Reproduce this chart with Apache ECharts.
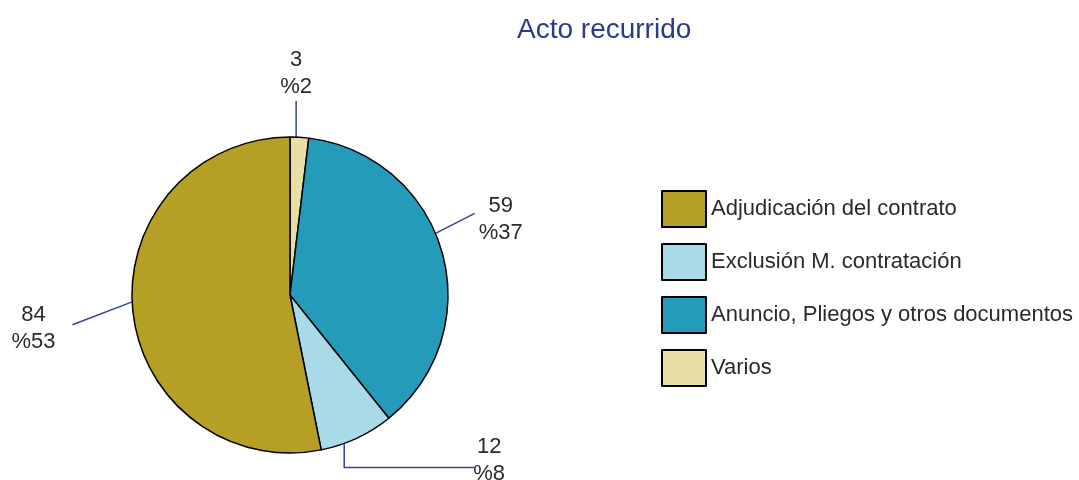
<!DOCTYPE html>
<html><head><meta charset="utf-8">
<script src="https://cdn.jsdelivr.net/npm/echarts@6/dist/echarts.min.js"></script>
<style>html,body{margin:0;padding:0;background:#fff}#c{width:1079px;height:480px}</style>
</head><body><div id="c"></div>
<script>
const titleText = 'Acto recurrido';
const categories = ['Varios', 'Anuncio, Pliegos y otros documentos', 'Exclusión M. contratación', 'Adjudicación del contrato'];
const values = [3, 59, 12, 84];
const percents = [2, 37, 8, 53];
const legendOrder = ['Adjudicación del contrato', 'Exclusión M. contratación', 'Anuncio, Pliegos y otros documentos', 'Varios'];
const colors = ['#E8DFA7', '#249BB8', '#A8DBE7', '#B5A025'];

// leader-line styling (per slice): anchor angle shift, direction, lengths, label offset
const anchorShift = [1.2, 7, -5, -3.2];
const lineDir = [90, 27, -90, 201];
const lineLen = [36, 44, 24, 64];
const lineLen2 = [0, 0, 130, 0];
const labelOff = [[0, -1], [26, 6], [15, -7], [-39, 4]];

const cx = 290, cy = 295, R = 158;
const font = '"Liberation Sans", Arial, sans-serif';
const total = values.reduce((a, b) => a + b, 0);
const cum = [];
values.reduce((a, v, i) => { cum[i] = a + v / 2; return a + v; }, 0);

const rad = d => d * Math.PI / 180;
const chart = echarts.init(document.getElementById('c'));
chart.setOption({
  animation: false,
  title: { text: titleText, left: 512, top: 11,
    textStyle: { color: '#2B3A8F', fontSize: 28, fontWeight: 'normal', fontFamily: font } },
  legend: {
    orient: 'vertical', left: 656, top: 185, itemWidth: 44, itemHeight: 36, itemGap: 15,
    icon: 'rect', data: legendOrder,
    textStyle: { fontSize: 22, color: '#2a2a2a', fontFamily: font }
  },
  series: [{
    type: 'pie', center: [cx, cy], radius: R, startAngle: 90, clockwise: true,
    avoidLabelOverlap: false,
    itemStyle: { borderColor: '#000', borderWidth: 1.5 },
    label: { show: true, position: 'outside', fontSize: 22, color: '#2a2a2a', fontFamily: font,
      lineHeight: 27, align: 'center',
      formatter: p => values[p.dataIndex] + '\n%' + percents[p.dataIndex] },
    labelLine: { show: true, length: 20, length2: 0, lineStyle: { color: '#36459A', width: 1.5 } },
    labelLayout: function (p) {
      const i = p.dataIndex;
      const mid = 90 - cum[i] / total * 360 + anchorShift[i];
      const p0 = [cx + R * Math.cos(rad(mid)), cy - R * Math.sin(rad(mid))];
      const p1 = [p0[0] + lineLen[i] * Math.cos(rad(lineDir[i])), p0[1] - lineLen[i] * Math.sin(rad(lineDir[i]))];
      const p2 = [p1[0] + lineLen2[i], p1[1]];
      const vb = i === 0 ? 'bottom' : 'middle';
      return { x: p2[0] + labelOff[i][0], y: p2[1] + labelOff[i][1], align: 'center', verticalAlign: vb,
        labelLinePoints: [p0, p1, p2] };
    },
    data: categories.map((c, i) => ({ name: c, value: values[i], itemStyle: { color: colors[i] } }))
  }]
});
</script></body></html>
